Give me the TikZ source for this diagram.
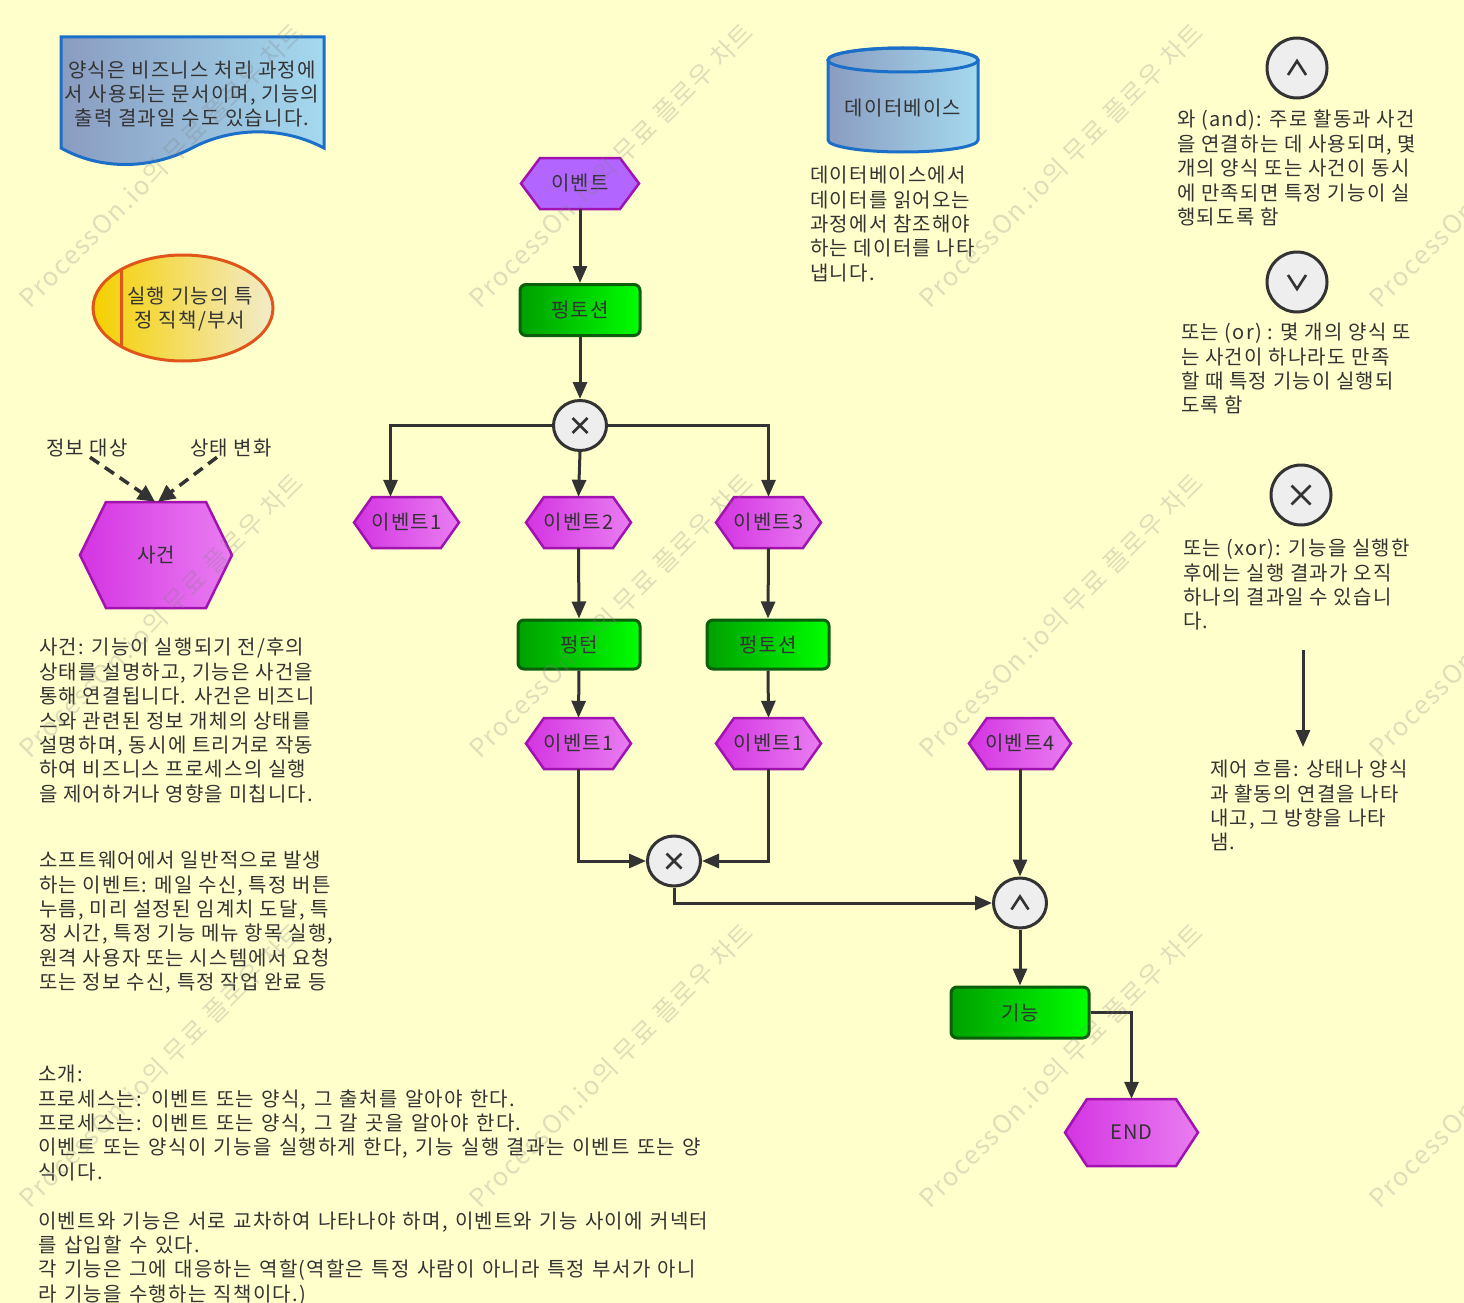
\documentclass[tikz,border=0pt]{standalone}
\usepackage{fontspec}
\setmainfont{Noto Sans CJK KR}[LetterSpace=6]
\usetikzlibrary{arrows.meta,shapes.geometric}
\definecolor{bg}{HTML}{FFFFCC}
\definecolor{ink}{HTML}{333333}
\definecolor{gatefill}{HTML}{EEEEEE}
\definecolor{fborder}{HTML}{0B5E0B}
\definecolor{gA}{HTML}{00A000}
\definecolor{gB}{HTML}{00FF00}
\definecolor{pA}{HTML}{D434E2}
\definecolor{pB}{HTML}{E97DF1}
\definecolor{hexborder}{HTML}{A112B0}
\definecolor{violetA}{HTML}{B266FF}
\definecolor{blueA}{HTML}{8A9CC0}
\definecolor{blueB}{HTML}{A4D9EF}
\definecolor{blueborder}{HTML}{1A6FC8}
\definecolor{yelA}{HTML}{F5D000}
\definecolor{yelB}{HTML}{F2EBCB}
\definecolor{orborder}{HTML}{E0561A}
\newcommand{\fsz}{\fontsize{20}{24.4}\selectfont}
\newcommand{\widefsz}{\fontsize{20}{24.4}\selectfont\spaceskip=7.5pt plus 1pt\relax}
\newcommand{\hexnode}[8]{%
  \path[#1] ({#3-#5},#4) -- ({#3-#5+#7},{#4-#6}) -- ({#3+#5-#7},{#4-#6}) -- ({#3+#5},#4)
    -- ({#3+#5-#7},{#4+#6}) -- ({#3-#5+#7},{#4+#6}) -- cycle;
  \node[lbl, minimum width={2*#5}, minimum height={2*#6}] (#2) at (#3,#4) {#8};}
\newcommand{\xsym}[2]{\draw[sym] ([shift={(-#2,-#2)}]#1.center) -- ([shift={(#2,#2)}]#1.center);
  \draw[sym] ([shift={(-#2,#2)}]#1.center) -- ([shift={(#2,-#2)}]#1.center);}
\newcommand{\andsym}[3]{\draw[sym, line join=miter] ([shift={(-#2,#3)}]#1.center) -- ([shift={(0,-#3)}]#1.center) -- ([shift={(#2,#3)}]#1.center);}
\newcommand{\orsym}[3]{\draw[sym, line join=miter] ([shift={(-#2,-#3)}]#1.center) -- ([shift={(0,#3)}]#1.center) -- ([shift={(#2,-#3)}]#1.center);}
\begin{document}
\begin{tikzpicture}[x=1pt,y=-1pt,
  lbl/.style={inner sep=0pt, text=ink, font=\fsz},
  para/.style={anchor=north west, align=left, inner sep=0pt, text=ink, font=\fsz},
  arr/.style={draw=ink, line width=3pt, -{Triangle[length=17pt,width=14pt]}},
  darr/.style={draw=ink, line width=3.5pt, dash pattern=on 11pt off 7pt, -{Triangle[length=17pt,width=16pt]}},
  gate/.style={ellipse, draw=ink, line width=3pt, fill=gatefill, inner sep=0pt, minimum width=53pt, minimum height=50pt},
  lgate/.style={circle, draw=ink, line width=3pt, fill=gatefill, inner sep=0pt, minimum size=60pt},
  sym/.style={draw=ink, line width=2.6pt},
  fbox/.style={rectangle, rounded corners=6pt, draw=fborder, line width=3pt, left color=gA, right color=gB, text=ink, font=\fsz, inner sep=0pt},
  hexP/.style={draw=hexborder, line width=2.5pt, left color=pA, right color=pB},
  hexV/.style={draw=hexborder, line width=2.5pt, fill=violetA},
  wm/.style={anchor=base west, rotate=45, inner sep=0pt, font=\fontsize{25.5}{25.5}\selectfont, text=gray, text opacity=0.26}]
\useasboundingbox (0,0) rectangle (1464,1303);
\fill[bg] (0,0) rectangle (1464,1303);

% document shape
\path[draw=blueborder, line width=3pt, left color=blueA, right color=blueB]
  (61,148) -- (61,37) -- (324,37) -- (324,148) .. controls (280,125) and (230,128) .. (192,148)
  .. controls (150,170) and (100,170) .. (61,148) -- cycle;
\node[lbl, align=center] (doc) at (192,94) {양식은 비즈니스 처리 과정에\\서 사용되는 문서이며, 기능의\\출력 결과일 수도 있습니다.};

% role ellipse
\path[draw=orborder, line width=3pt, left color=yelA, right color=yelB] (183,308) ellipse [x radius=90, y radius=53];
\draw[orborder, line width=3pt] (121,269.4) -- (121,346.6);
\node[lbl, align=center] (role) at (190,309) {실행 기능의 특\\정 직책/부서};

% event legend
\node[lbl] (lbl1) at (87,448) {정보 대상};
\node[lbl] (lbl2) at (231,448) {상태 변화};
\hexnode{hexP}{sj}{156}{555}{76}{53}{26}{사건}
\draw[darr] ([xshift=3pt]lbl1.south) -- ([xshift=-1pt]sj.north);
\draw[darr] ([xshift=-14pt]lbl2.south) -- ([xshift=2pt]sj.north);

% database
\path[draw=blueborder, line width=3pt, left color=blueA, right color=blueB]
  (828,60) -- (828,140) arc[start angle=180, end angle=0, x radius=75, y radius=12]
  -- (978,60) arc[start angle=0, end angle=-180, x radius=75, y radius=12] -- cycle;
\draw[blueborder, line width=3pt] (903,60) ellipse [x radius=75, y radius=12];
\node[lbl] (db) at (903,108) {데이터베이스};

% flow
\hexnode{hexV}{ev0}{580}{183.5}{59}{25.5}{19}{이벤트}
\node[fbox, minimum width=120pt, minimum height=51pt] (f0) at (580,310) {펑토션};
\node[gate] (x1) at (580,425.5) {};
\xsym{x1}{7.5}
\hexnode{hexP}{ev1}{406.5}{522.5}{52.5}{25.5}{18}{이벤트1}
\hexnode{hexP}{ev2}{578.5}{522.5}{52.5}{25.5}{18}{이벤트2}
\hexnode{hexP}{ev3}{768.5}{522.5}{52.5}{25.5}{18}{이벤트3}
\node[fbox, minimum width=122pt, minimum height=49pt] (f2) at (579,644.5) {펑턴};
\node[fbox, minimum width=122pt, minimum height=49pt] (f3) at (768,644.5) {펑토션};
\hexnode{hexP}{ev21}{578.5}{743.5}{52.5}{25.5}{18}{이벤트1}
\hexnode{hexP}{ev31}{768.5}{743.5}{52.5}{25.5}{18}{이벤트1}
\hexnode{hexP}{ev4}{1020}{743.5}{51}{25.5}{18}{이벤트4}
\node[gate] (x2) at (674,861) {};
\xsym{x2}{7.5}
\node[gate] (and) at (1020,903) {};
\andsym{and}{8.5}{6.5}
\node[fbox, minimum width=138pt, minimum height=51pt] (fn) at (1020,1012.5) {기능};
\hexnode{hexP}{end}{1131.5}{1132.5}{66.5}{33.5}{22}{END}

\draw[arr] (ev0.south) -- (f0.north);
\draw[arr] (f0.south) -- (x1.north);
\draw[arr] (x1.west) -| ([xshift=-16pt]ev1.north);
\draw[arr] (x1.south) -- (ev2.north);
\draw[arr] (x1.east) -| (ev3.north);
\draw[arr] (ev2.south) -- (f2.north);
\draw[arr] (ev3.south) -- (f3.north);
\draw[arr] (f2.south) -- (ev21.north);
\draw[arr] (f3.south) -- (ev31.north);
\draw[arr] (ev21.south) |- (x2.west);
\draw[arr] (ev31.south) |- (x2.east);
\draw[arr] (x2.south) |- (and.west);
\draw[arr] (ev4.south) -- (and.north);
\draw[arr] (and.south) -- (fn.north);
\draw[arr] (fn.east) -| (end.north);

% right legend
\node[lgate] (gand) at (1297,68) {};
\andsym{gand}{9}{7}
\node[lgate] (gor) at (1297,282) {};
\orsym{gor}{9}{7}
\node[lgate] (gxor) at (1301,495) {};
\xsym{gxor}{9.5}
\coordinate (la) at (1303,650);
\coordinate (lb) at (1303,747);
\draw[arr] (la) -- (lb);

% texts
\node[para] (tdb) at (810,166) {데이터베이스에서\\데이터를 읽어오는\\과정에서 참조해야\\하는 데이터를 나타\\냅니다.};
\node[para] (tand) at (1177,110) {와 (and): 주로 활동과 사건\\을 연결하는 데 사용되며, 몇\\개의 양식 또는 사건이 동시\\에 만족되면 특정 기능이 실\\행되도록 함};
\node[para] (tor) at (1181,323) {또는 (or) : 몇 개의 양식 또\\는 사건이 하나라도 만족\\할 때 특정 기능이 실행되\\도록 함};
\node[para] (txor) at (1183,539) {또는 (xor): 기능을 실행한\\후에는 실행 결과가 오직\\하나의 결과일 수 있습니\\다.};
\node[para] (tflow) at (1210,760) {제어 흐름: 상태나 양식\\과 활동의 연결을 나타\\내고, 그 방향을 나타\\냄.};
\node[para] (tev) at (39,638) {사건: 기능이 실행되기 전/후의\\상태를 설명하고, 기능은 사건을\\통해 연결됩니다. 사건은 비즈니\\스와 관련된 정보 개체의 상태를\\설명하며, 동시에 트리거로 작동\\하여 비즈니스 프로세스의 실행\\을 제어하거나 영향을 미칩니다.};
\node[para] (tsw) at (39,851) {소프트웨어에서 일반적으로 발생\\하는 이벤트: 메일 수신, 특정 버튼\\누름, 미리 설정된 임계치 도달, 특\\정 시간, 특정 기능 메뉴 항목 실행,\\원격 사용자 또는 시스템에서 요청\\또는 정보 수신, 특정 작업 완료 등};
\node[para, font=\widefsz] (tintro) at (38,1065) {소개:\\프로세스는: 이벤트 또는 양식, 그 출처를 알아야 한다.\\프로세스는: 이벤트 또는 양식, 그 갈 곳을 알아야 한다.\\이벤트 또는 양식이 기능을 실행하게 한다, 기능 실행 결과는 이벤트 또는 양\\식이다.\\[24.4pt]이벤트와 기능은 서로 교차하여 나타나야 하며, 이벤트와 기능 사이에 커넥터\\를 삽입할 수 있다.\\각 기능은 그에 대응하는 역할(역할은 특정 사람이 아니라 특정 부서가 아니\\라 기능을 수행하는 직책이다.)};

% watermark
\begin{scope}
\clip (0,0) rectangle (1464,1303);
\foreach \i in {0,...,3} {\foreach \j in {0,1,2} {
  \node[wm] (wm\i\j) at ({30+450*\i},{310+450*\j}) {ProcessOn.io의 무료 플로우 차트};
}}
\end{scope}
\end{tikzpicture}
\end{document}
